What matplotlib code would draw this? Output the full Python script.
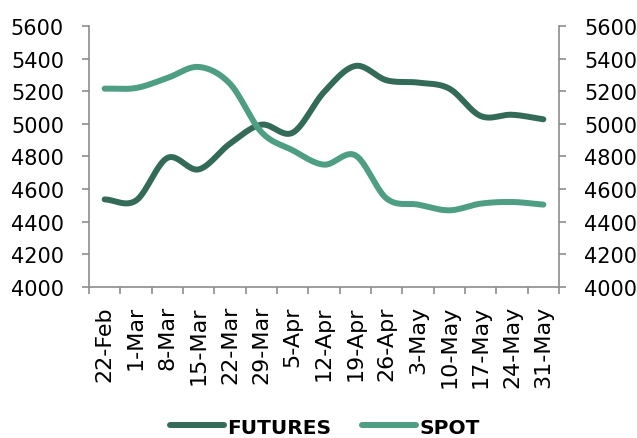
import numpy as np
import matplotlib
matplotlib.use("Agg")
import matplotlib.pyplot as plt
from matplotlib.lines import Line2D

dates = ["22-Feb", "1-Mar", "8-Mar", "15-Mar", "22-Mar", "29-Mar", "5-Apr", "12-Apr",
         "19-Apr", "26-Apr", "3-May", "10-May", "17-May", "24-May", "31-May"]
futures = [4537, 4530, 4791, 4721, 4879, 4995, 4946, 5195, 5355, 5267, 5253, 5216, 5048, 5056, 5028]
spot = [5216, 5220, 5281, 5349, 5246, 4950, 4838, 4750, 4807, 4542, 4505, 4470, 4511, 4521, 4505]
yticks = [4000, 4200, 4400, 4600, 4800, 5000, 5200, 5400, 5600]

FUT_COLOR = "#336B58"
SPOT_COLOR = "#4E9E83"
AX_COLOR = "#8C8C8C"


def smooth(x, y, n=24):
    """Catmull-Rom spline through the points (like Excel's smoothed line)."""
    x = np.asarray(x, float)
    y = np.asarray(y, float)
    px = np.concatenate([[2 * x[0] - x[1]], x, [2 * x[-1] - x[-2]]])
    py = np.concatenate([[2 * y[0] - y[1]], y, [2 * y[-1] - y[-2]]])
    xs, ys = [], []
    t = np.linspace(0, 1, n, endpoint=False)
    for i in range(1, len(px) - 2):
        for arr, out in ((px, xs), (py, ys)):
            p0, p1, p2, p3 = arr[i - 1], arr[i], arr[i + 1], arr[i + 2]
            out.extend(0.5 * ((2 * p1) + (-p0 + p2) * t
                              + (2 * p0 - 5 * p1 + 4 * p2 - p3) * t ** 2
                              + (-p0 + 3 * p1 - 3 * p2 + p3) * t ** 3))
    xs.append(x[-1])
    ys.append(y[-1])
    return np.array(xs), np.array(ys)


fig = plt.figure(figsize=(6.37, 4.39), dpi=100)
ax = fig.add_axes([0.1397, 0.344, 0.7379, 0.5945])

x = np.arange(len(dates))
fx, fy = smooth(x, futures)
sx, sy = smooth(x, spot)
ax.plot(fx, fy, color=FUT_COLOR, lw=4.3, solid_capstyle="round", label="FUTURES")
ax.plot(sx, sy, color=SPOT_COLOR, lw=4.3, solid_capstyle="round", label="SPOT")

ax.set_xlim(-0.5, len(dates) - 0.5)
ax.set_ylim(4000, 5600)
ax.set_yticks(yticks)
ax.set_yticklabels([str(v) for v in yticks])
ax.set_xticks(x)
ax.set_xticklabels(dates, rotation=90)
ax.set_xticks(np.arange(-0.5, len(dates)), minor=True)

for s in ["top"]:
    ax.spines[s].set_visible(False)
for s in ["left", "right", "bottom"]:
    ax.spines[s].set_color(AX_COLOR)
    ax.spines[s].set_linewidth(1.2)

ax.tick_params(axis="y", which="major", direction="out", length=5, width=1.2,
               color=AX_COLOR, labelsize=15, pad=13, left=True, right=True,
               labelleft=True, labelright=True)
ax.tick_params(axis="x", which="major", length=0, labelsize=16, pad=13)
ax.tick_params(axis="x", which="minor", direction="out", length=5, width=1.2,
               color=AX_COLOR)

handles = [Line2D([], [], color=FUT_COLOR, lw=4.3, solid_capstyle="round"),
           Line2D([], [], color=SPOT_COLOR, lw=4.3, solid_capstyle="round")]
fig.legend(handles, ["FUTURES", "SPOT"], loc="center", bbox_to_anchor=(0.51, 0.025),
           ncol=2, frameon=False, prop={"size": 14.5, "weight": "bold"},
           handlelength=2.7, handletextpad=0.15, columnspacing=1.5)

fig.savefig("out.png", dpi=100)
